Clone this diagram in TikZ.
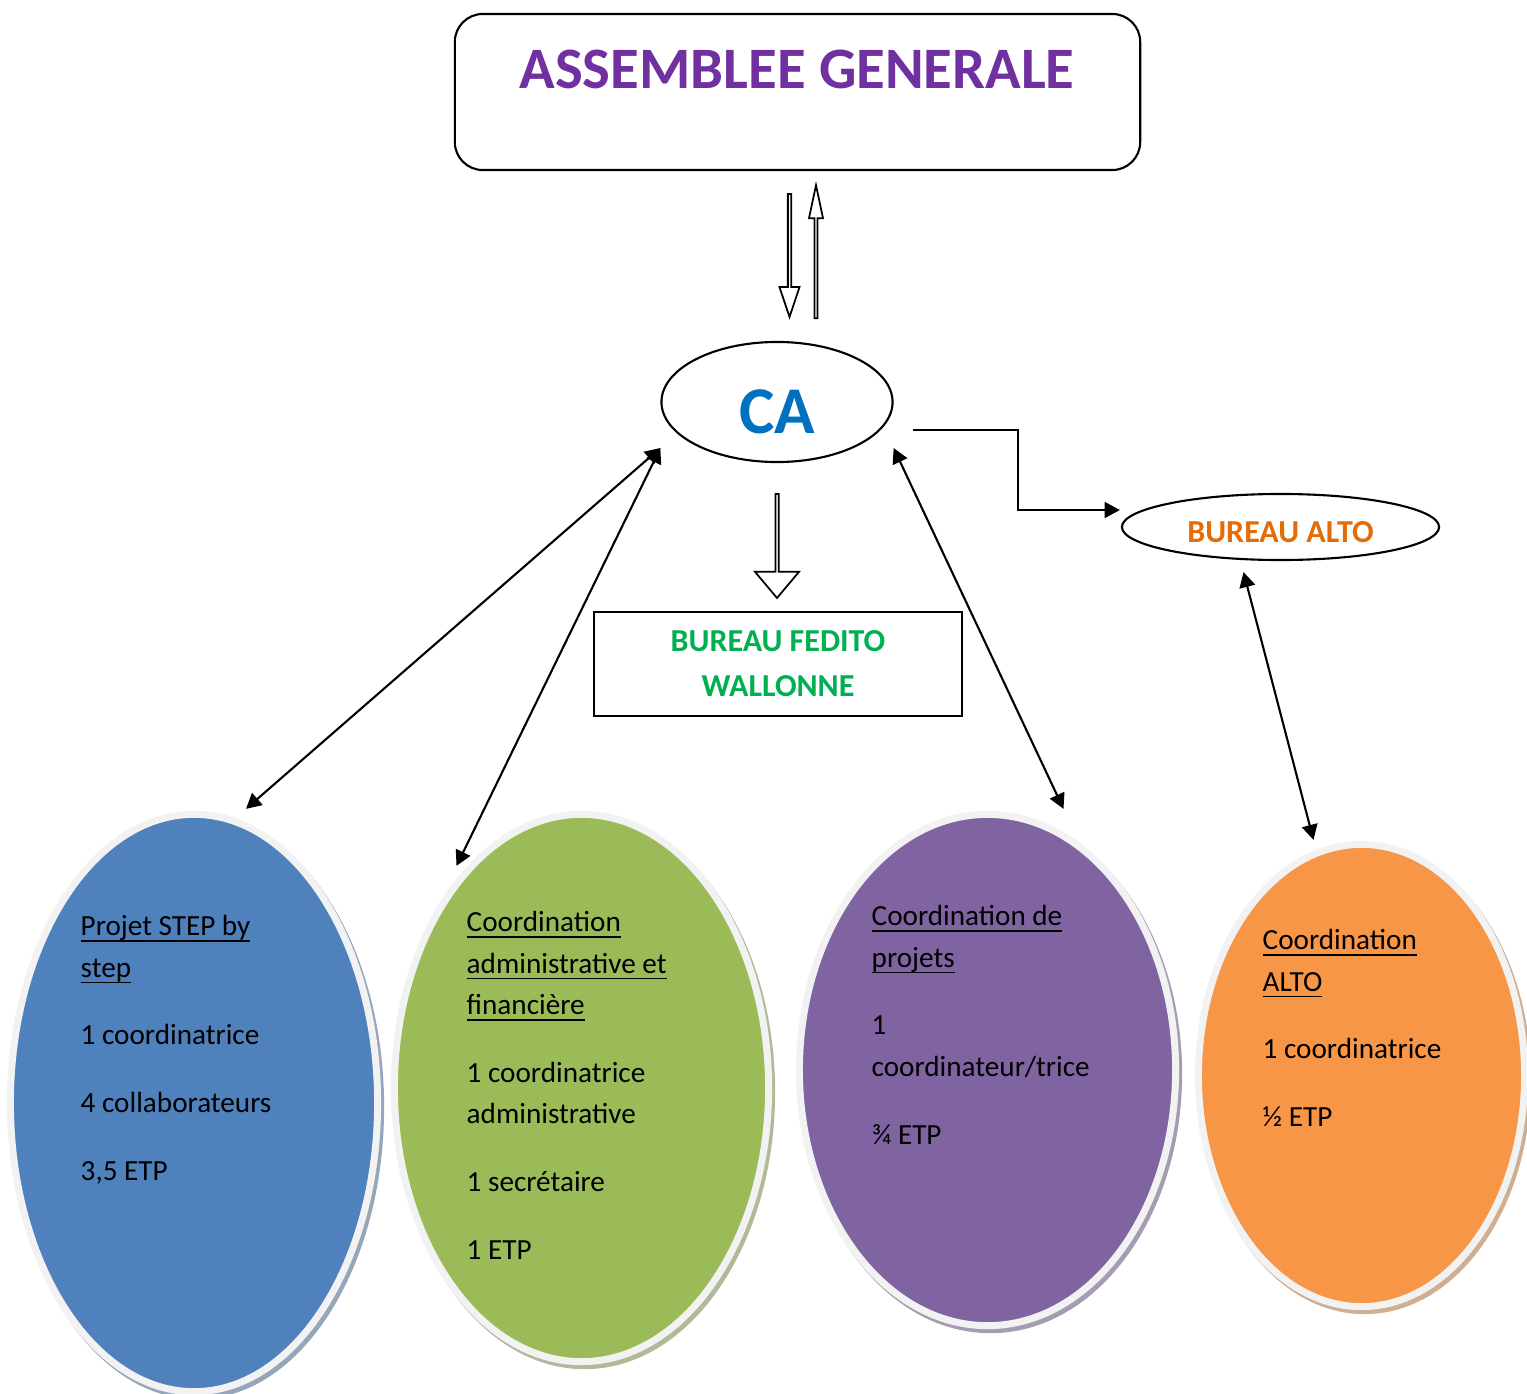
\documentclass[tikz,border=0pt]{standalone}
\usepackage{fontspec}
\setmainfont{Carlito}
\usetikzlibrary{shapes.geometric,shapes.arrows,arrows.meta}
\definecolor{agpurple}{HTML}{7030A0}
\definecolor{cablue}{HTML}{0070C0}
\definecolor{feditogreen}{HTML}{00B050}
\definecolor{altoorange}{HTML}{E36C09}
\definecolor{stepblue}{HTML}{4F81BD}
\definecolor{admingreen}{HTML}{9BBB59}
\definecolor{projpurple}{HTML}{8064A2}
\definecolor{altofill}{HTML}{F79646}
\definecolor{ringgray}{HTML}{F2F2F2}
\newcommand{\underlined}[1]{\underline{\smash{#1}}}
\tikzset{
  unitellipse/.style={ellipse, inner sep=0pt, fill=#1, draw=ringgray, line width=0.07cm,
    preaction={draw=#1!50!gray!70, line width=0.07cm, transform canvas={xshift=0.03cm,yshift=-0.04cm}}},
  unittext/.style={anchor=base west, align=left, inner sep=0pt, font=\fontsize{8.3}{11.8}\selectfont},
  linkarrow/.style={{Triangle[length=4.3pt,width=4.5pt]}-{Triangle[length=4.3pt,width=4.5pt]}, line width=0.6pt},
  blockarrow/.style={single arrow, draw, fill=white, line width=0.5pt, inner sep=0pt},
}
\begin{document}
\begin{tikzpicture}[x=0.01cm,y=-0.01cm]
\useasboundingbox (0,0) rectangle (1527,1394);
% AG and CA
\node[draw, rounded corners=0.28cm, line width=0.6pt, minimum width=6.85cm, minimum height=1.56cm] (ag) at (797.5,92) {};
\node[anchor=base, text=agpurple, font=\fontsize{16.7}{20}\selectfont\bfseries] (agtitle) at (797,89) {ASSEMBLEE GENERALE};
\node[blockarrow, minimum height=1.23cm, minimum width=0.2cm, single arrow head extend=0.045cm, single arrow tip angle=37, shape border rotate=270] (agdown) at (789.5,253) {};
\node[blockarrow, minimum height=1.33cm, minimum width=0.14cm, single arrow head extend=0.03cm, single arrow tip angle=24, shape border rotate=90] (agup) at (816,255.5) {};
\node[draw, ellipse, line width=0.6pt, minimum width=2.31cm, minimum height=1.2cm, inner sep=0pt, text height=0.62cm, text depth=0cm, text=cablue, font=\fontsize{19}{22}\selectfont\bfseries] (ca) at (777,402) {CA};
% bureaux
\node[blockarrow, minimum height=1.04cm, minimum width=0.44cm, single arrow head extend=0.11cm, single arrow tip angle=80, shape border rotate=270] (cadown) at (777,545) {};
\node[draw, line width=0.5pt, minimum width=3.68cm, minimum height=1.04cm, align=center, text=feditogreen, font=\fontsize{9.1}{12.8}\selectfont\bfseries] (fedito) at (778,664) {BUREAU FEDITO\\WALLONNE};
\node[draw, ellipse, line width=0.6pt, minimum width=3.17cm, minimum height=0.66cm, inner sep=0pt, text height=0.315cm, text depth=0cm, text=altoorange, font=\fontsize{9.1}{11}\selectfont\bfseries] (alto) at (1280.5,527) {BUREAU ALTO};
% equipes
\node[unitellipse=stepblue, minimum width=3.67cm, minimum height=5.77cm] (step) at (194,1103) {};
\node[unitellipse=admingreen, minimum width=3.74cm, minimum height=5.47cm] (admin) at (581.5,1088) {};
\node[unitellipse=projpurple, minimum width=3.76cm, minimum height=5.11cm] (proj) at (987.5,1070) {};
\node[unitellipse=altofill, minimum width=3.26cm, minimum height=4.62cm] (coordalto) at (1361.5,1075.5) {};
\node[unittext] (steptext) at (80,1180) {\underlined{Projet STEP by}\\\underlined{step}\\[7.4pt]1 coordinatrice\\[7.4pt]4 collaborateurs\\[7.4pt]3,5 ETP};
\node[unittext] (admintext) at (466,1259) {\underlined{Coordination}\\\underlined{administrative et}\\\underlined{financière}\\[7.4pt]1 coordinatrice\\administrative\\[7.4pt]1 secrétaire\\[7.4pt]1 ETP};
\node[unittext] (projtext) at (871,1144) {\underlined{Coordination de}\\\underlined{projets}\\[7.4pt]1\\coordinateur/trice\\[7.4pt]¾ ETP};
\node[unittext] (altotext) at (1262,1126.5) {\underlined{Coordination}\\\underlined{ALTO}\\[7.4pt]1 coordinatrice\\[7.4pt]½ ETP};
% liens
\draw[linkarrow] ([shift={(0,46)}]ca.west) -- ([shift={(52,-2)}]step.north);
\draw[linkarrow] ([shift={(0,46)}]ca.west) -- ([shift={(-125,55)}]admin.north);
\draw[linkarrow] ([shift={(0,46)}]ca.east) -- ([shift={(76,-2)}]proj.north);
\draw[linkarrow] ([shift={(-37,11)}]alto.south) -- ([shift={(-48,-1)}]coordalto.north);
\draw[-{Triangle[length=4.3pt,width=4.5pt]}, line width=0.6pt] ([shift={(19,28)}]ca.east) -- ++(105,0) |- ([shift={(-1,-17)}]alto.west);
\end{tikzpicture}
\end{document}
